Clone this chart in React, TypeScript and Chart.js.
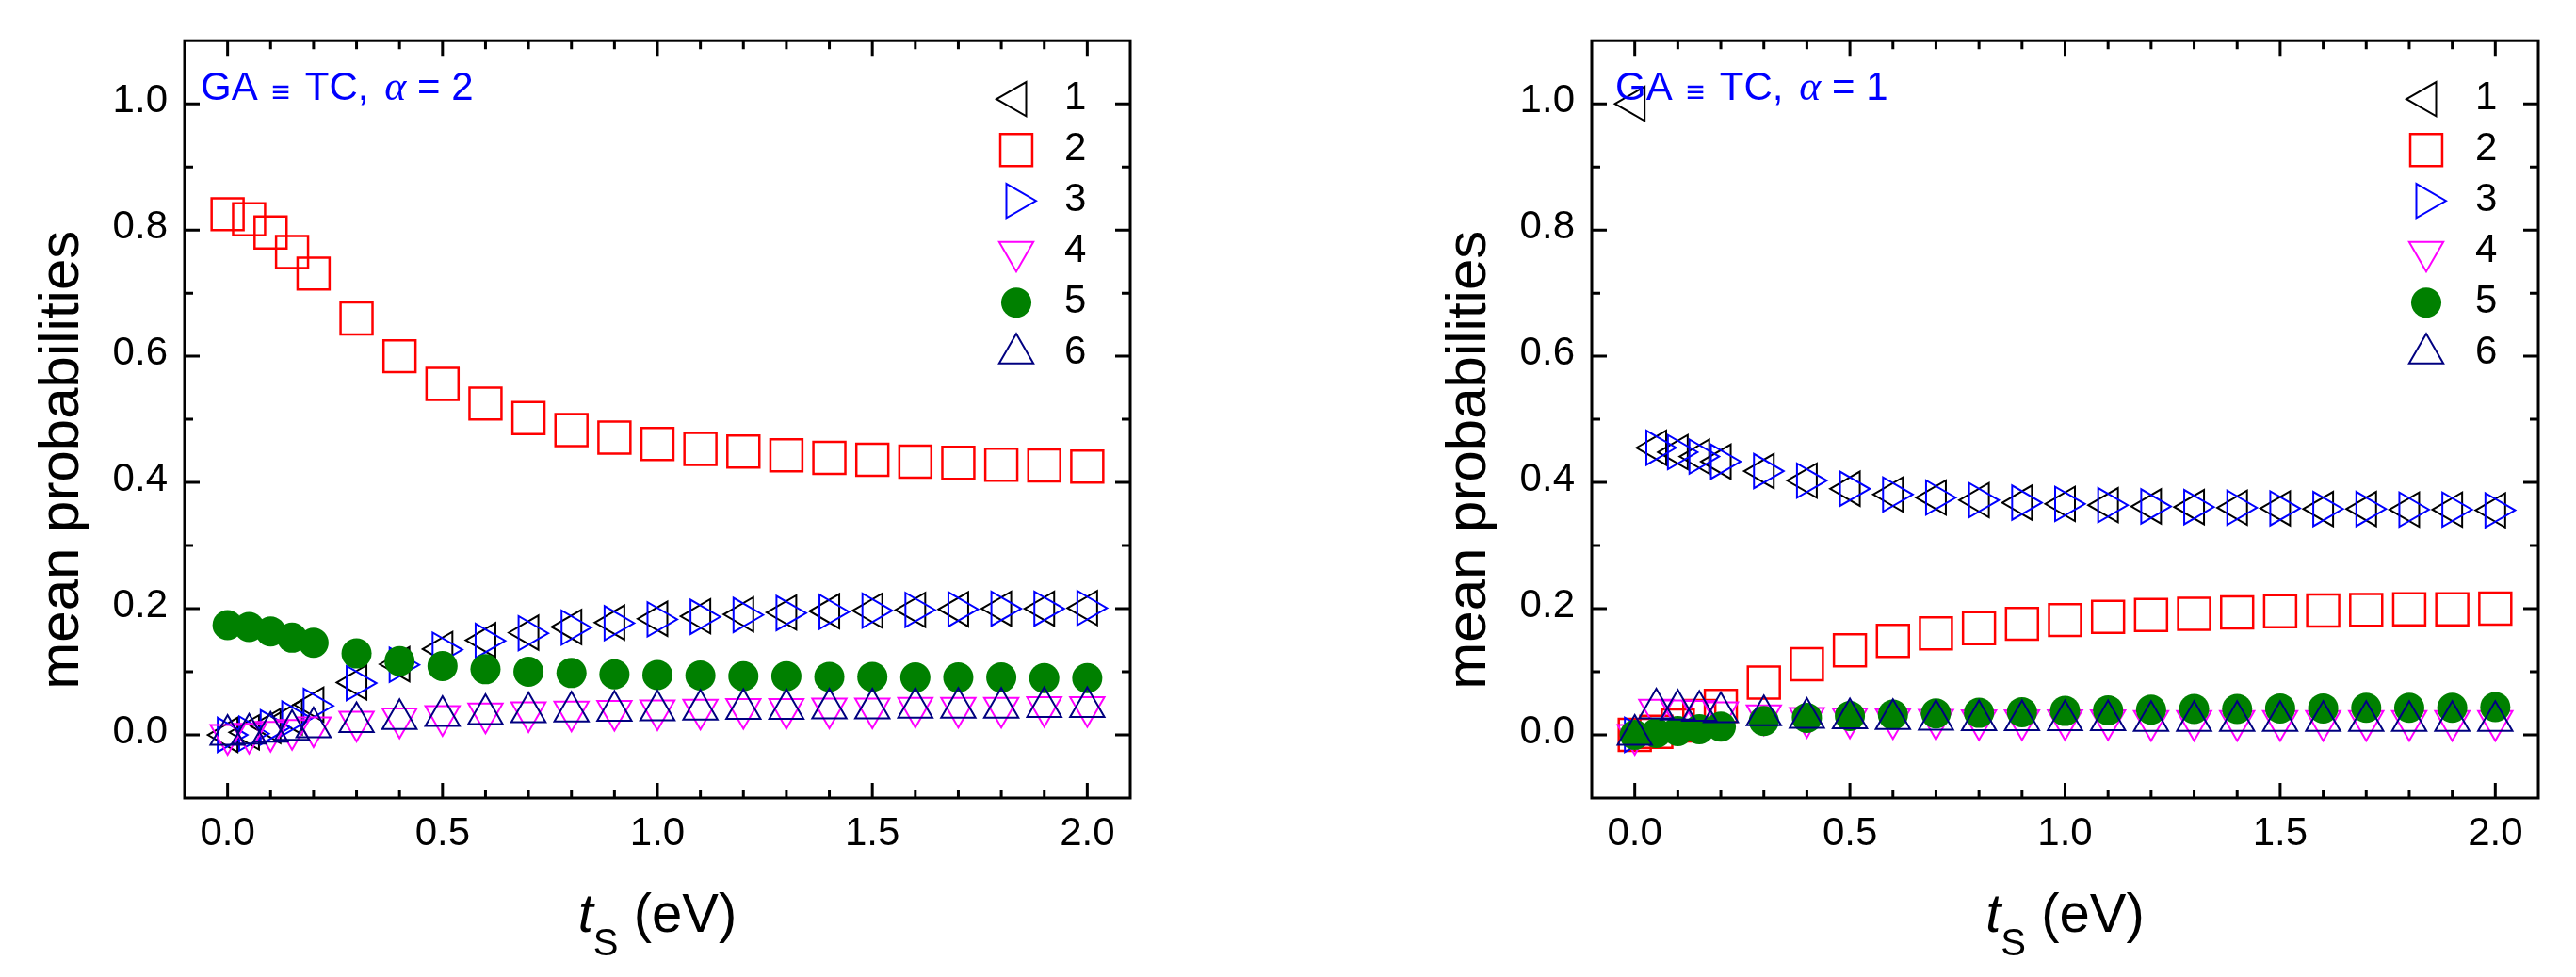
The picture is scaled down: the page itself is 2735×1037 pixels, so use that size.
import { useEffect, useRef } from "react"
import { Chart, registerables } from "chart.js"
import { drawPoint } from "chart.js/helpers"

Chart.register(...registerables)

// t_S values (eV)
const tsValues = [0, 0.05, 0.1, 0.15, 0.2, 0.3, 0.4, 0.5, 0.6, 0.7, 0.8, 0.9, 1.0, 1.1, 1.2, 1.3, 1.4, 1.5, 1.6, 1.7, 1.8, 1.9, 2.0]

const seriesNames = ["1", "2", "3", "4", "5", "6"]

// alpha = 2
const a2Series1 = [0, 0.004, 0.014, 0.028, 0.048, 0.083, 0.112, 0.136, 0.15, 0.162, 0.171, 0.178, 0.184, 0.188, 0.191, 0.194, 0.196, 0.197, 0.198, 0.199, 0.2, 0.2, 0.201]
const a2Series2 = [0.825, 0.817, 0.796, 0.765, 0.731, 0.66, 0.6, 0.556, 0.525, 0.502, 0.483, 0.471, 0.461, 0.453, 0.449, 0.443, 0.439, 0.436, 0.433, 0.431, 0.428, 0.427, 0.425]
const a2Series3 = [0, 0.002, 0.012, 0.026, 0.046, 0.082, 0.111, 0.135, 0.149, 0.161, 0.17, 0.177, 0.183, 0.187, 0.19, 0.193, 0.195, 0.197, 0.198, 0.199, 0.2, 0.2, 0.201]
const a2Series4 = [0, 0.002, 0.005, 0.008, 0.012, 0.021, 0.026, 0.03, 0.034, 0.036, 0.037, 0.038, 0.039, 0.04, 0.041, 0.041, 0.042, 0.042, 0.043, 0.043, 0.043, 0.044, 0.044]
const a2Series5 = [0.174, 0.171, 0.164, 0.154, 0.146, 0.129, 0.117, 0.109, 0.104, 0.1, 0.098, 0.096, 0.095, 0.094, 0.093, 0.093, 0.092, 0.092, 0.091, 0.091, 0.091, 0.09, 0.09]
const a2Series6 = [0, 0.002, 0.005, 0.008, 0.012, 0.02, 0.025, 0.03, 0.033, 0.036, 0.037, 0.038, 0.039, 0.04, 0.041, 0.041, 0.042, 0.042, 0.043, 0.043, 0.043, 0.044, 0.044]

// alpha = 1
const a1Series1 = [1.0, 0.455, 0.448, 0.441, 0.433, 0.418, 0.403, 0.39, 0.381, 0.376, 0.372, 0.368, 0.366, 0.364, 0.362, 0.361, 0.36, 0.359, 0.358, 0.358, 0.357, 0.357, 0.356]
const a1Series2 = [0, 0.005, 0.015, 0.03, 0.046, 0.083, 0.112, 0.134, 0.149, 0.161, 0.169, 0.176, 0.182, 0.187, 0.19, 0.192, 0.194, 0.196, 0.197, 0.198, 0.199, 0.199, 0.2]
const a1Series3 = [0, 0.455, 0.448, 0.441, 0.433, 0.418, 0.403, 0.39, 0.381, 0.376, 0.372, 0.368, 0.366, 0.364, 0.362, 0.361, 0.36, 0.359, 0.358, 0.358, 0.357, 0.357, 0.356]
const a1Series4 = [0, 0.04, 0.039, 0.038, 0.036, 0.031, 0.027, 0.026, 0.025, 0.024, 0.023, 0.023, 0.023, 0.023, 0.022, 0.022, 0.022, 0.022, 0.022, 0.022, 0.022, 0.022, 0.022]
const a1Series5 = [0, 0.003, 0.006, 0.009, 0.013, 0.022, 0.027, 0.03, 0.032, 0.034, 0.035, 0.036, 0.038, 0.039, 0.04, 0.041, 0.041, 0.042, 0.042, 0.043, 0.043, 0.043, 0.044]
const a1Series6 = [0, 0.042, 0.04, 0.038, 0.036, 0.031, 0.027, 0.026, 0.025, 0.024, 0.023, 0.023, 0.023, 0.023, 0.022, 0.022, 0.022, 0.022, 0.022, 0.022, 0.022, 0.022, 0.022]

// axis ticks
const xTickLabels = [0, 0.5, 1.0, 1.5, 2.0]
const xMinorTicks = [0.1, 0.2, 0.3, 0.4, 0.6, 0.7, 0.8, 0.9, 1.1, 1.2, 1.3, 1.4, 1.6, 1.7, 1.8, 1.9]
const yTickLabels = [0, 0.2, 0.4, 0.6, 0.8, 1.0]
const yMinorTicks = [0.1, 0.3, 0.5, 0.7, 0.9]

const FONT = "'Liberation Sans', Arial, sans-serif"
const SERIF = "'Liberation Serif', 'Times New Roman', serif"

const markers = [
  { color: "#000000", style: "triangle", rotation: 270, radius: 21, filled: false, width: 2 },
  { color: "#ff0000", style: "rect", rotation: 0, radius: 24, filled: false, width: 2.5 },
  { color: "#0000ff", style: "triangle", rotation: 90, radius: 21, filled: false, width: 2 },
  { color: "#ff00ff", style: "triangle", rotation: 180, radius: 21, filled: false, width: 2 },
  { color: "#008000", style: "circle", rotation: 0, radius: 16, filled: true, width: 0 },
  { color: "#000080", style: "triangle", rotation: 0, radius: 21, filled: false, width: 2 },
]

interface PanelProps {
  alpha: string
  series: number[][]
  left: number
  width: number
  padLeft: number
  padRight: number
  noteOffset: number
  legendSymbolX: number
  legendLabelX: number
}

const Panel = ({ alpha, series, left, width, padLeft, padRight, noteOffset, legendSymbolX, legendLabelX }: PanelProps) => {
  const canvasRef = useRef<HTMLCanvasElement>(null)
  const chartRef = useRef<Chart | null>(null)

  useEffect(() => {
    if (!canvasRef.current) return
    if (chartRef.current) chartRef.current.destroy()

    const framePlugin = {
      id: "frame",
      afterDraw(chart: any) {
        const { ctx, chartArea } = chart
        const { left: l, top: t, right: r, bottom: b } = chartArea
        const xs = chart.scales.x
        const ys = chart.scales.y
        ctx.save()

        // frame + inward ticks on all sides
        ctx.strokeStyle = "#000"
        ctx.lineWidth = 3
        ctx.strokeRect(l, t, r - l, b - t)
        ctx.beginPath()
        const xTick = (v: number, len: number) => {
          const p = xs.getPixelForValue(v)
          ctx.moveTo(p, b)
          ctx.lineTo(p, b - len)
          ctx.moveTo(p, t)
          ctx.lineTo(p, t + len)
        }
        const yTick = (v: number, len: number) => {
          const p = ys.getPixelForValue(v)
          ctx.moveTo(l, p)
          ctx.lineTo(l + len, p)
          ctx.moveTo(r, p)
          ctx.lineTo(r - len, p)
        }
        xTickLabels.forEach((v) => xTick(v, 16))
        xMinorTicks.forEach((v) => xTick(v, 9))
        yTickLabels.forEach((v) => yTick(v, 16))
        yMinorTicks.forEach((v) => yTick(v, 9))
        ctx.stroke()

        // legend
        seriesNames.forEach((name, i) => {
          const m = markers[i]
          const y = t + 62 + i * 54
          ctx.strokeStyle = m.color
          ctx.fillStyle = m.filled ? m.color : "rgba(0,0,0,0)"
          ctx.lineWidth = m.width
          drawPoint(ctx, { pointStyle: m.style as any, rotation: m.rotation, radius: m.radius, borderWidth: m.width }, r - legendSymbolX, y)
          ctx.fillStyle = "#000"
          ctx.font = `42px ${FONT}`
          ctx.textAlign = "left"
          ctx.textBaseline = "alphabetic"
          ctx.fillText(name, r - legendLabelX, y + 11)
        })

        // annotation "GA ≡ TC, α = n"
        ctx.fillStyle = "#0000ff"
        ctx.textAlign = "left"
        ctx.textBaseline = "alphabetic"
        let x = l + noteOffset
        const ny = t + 63
        ctx.font = `42px ${FONT}`
        ctx.fillText("GA", x, ny)
        x += ctx.measureText("GA ").width + 3
        ctx.font = `34px ${FONT}`
        ctx.fillText("\u2261", x, ny + 3)
        x += ctx.measureText("\u2261").width + 4
        ctx.font = `42px ${FONT}`
        ctx.fillText(" TC,", x, ny)
        x += ctx.measureText(" TC, ").width + 5
        ctx.font = `italic 44px ${SERIF}`
        ctx.fillText("\u03b1", x, ny)
        x += ctx.measureText("\u03b1").width
        ctx.font = `42px ${FONT}`
        ctx.fillText(` = ${alpha}`, x, ny)

        // y axis title
        ctx.fillStyle = "#000"
        ctx.save()
        ctx.translate(l - 113, t + 445)
        ctx.rotate(-Math.PI / 2)
        ctx.textAlign = "center"
        ctx.font = `60px ${FONT}`
        ctx.fillText("mean probabilities", 0, 0)
        ctx.restore()

        // x axis title: t_S (eV)
        ctx.textAlign = "left"
        const cx = (l + r) / 2
        const by = b + 142
        ctx.font = `italic 58px ${FONT}`
        const w1 = ctx.measureText("t").width
        ctx.font = `40px ${FONT}`
        const w2 = ctx.measureText("S").width
        ctx.font = `58px ${FONT}`
        const w3 = ctx.measureText(" (eV)").width
        let tx = cx - (w1 + w2 + w3) / 2
        ctx.font = `italic 58px ${FONT}`
        ctx.fillText("t", tx, by)
        tx += w1
        ctx.font = `40px ${FONT}`
        ctx.fillText("S", tx, by + 25)
        tx += w2
        ctx.font = `58px ${FONT}`
        ctx.fillText(" (eV)", tx, by)

        ctx.restore()
      },
    }

    const datasets = series.map((values, i) => {
      const m = markers[i]
      return {
        label: seriesNames[i],
        data: tsValues.map((ts, k) => ({ x: ts, y: values[k] })),
        showLine: false,
        pointStyle: m.style as any,
        pointRotation: m.rotation,
        pointRadius: m.radius,
        pointBorderWidth: m.width,
        pointBorderColor: m.color,
        pointBackgroundColor: m.filled ? m.color : "rgba(0,0,0,0)",
        order: seriesNames.length - i,
      }
    })

    chartRef.current = new Chart(canvasRef.current, {
      type: "scatter",
      data: { datasets },
      options: {
        animation: false,
        responsive: false,
        devicePixelRatio: 1,
        layout: { padding: { top: 30, right: padRight, bottom: 0, left: padLeft } },
        plugins: {
          legend: { display: false },
          tooltip: { enabled: false },
        },
        scales: {
          x: {
            type: "linear",
            min: -0.1,
            max: 2.1,
            afterBuildTicks: (scale: any) => {
              scale.ticks = xTickLabels.map((v) => ({ value: v }))
            },
            afterFit: (scale: any) => {
              scale.height = 190
            },
            grid: { display: false, drawTicks: false },
            border: { display: false },
            ticks: {
              callback: (v: any) => Number(v).toFixed(1),
              font: { size: 42, family: FONT },
              color: "#000",
              padding: 13,
              maxRotation: 0,
              autoSkip: false,
            },
          },
          y: {
            type: "linear",
            min: -0.1,
            max: 1.1,
            afterBuildTicks: (scale: any) => {
              scale.ticks = yTickLabels.map((v) => ({ value: v }))
            },
            afterFit: (scale: any) => {
              scale.width = 196
            },
            grid: { display: false, drawTicks: false },
            border: { display: false },
            ticks: {
              callback: (v: any) => Number(v).toFixed(1),
              font: { size: 42, family: FONT },
              color: "#000",
              padding: 18,
              labelOffset: -3,
              autoSkip: false,
            },
          },
        },
      },
      plugins: [framePlugin],
    })

    return () => {
      if (chartRef.current) {
        chartRef.current.destroy()
        chartRef.current = null
      }
    }
  }, [alpha, series, padLeft, padRight, noteOffset, legendSymbolX, legendLabelX])

  return (
    <canvas
      ref={canvasRef}
      width={width}
      height={1037}
      style={{ position: "absolute", left, top: 0 }}
    />
  )
}

const App = () => {
  return (
    <div style={{ position: "absolute", left: 0, top: 0, width: 2735, height: 1037, background: "#fff" }}>
      <Panel
        alpha="2"
        series={[a2Series1, a2Series2, a2Series3, a2Series4, a2Series5, a2Series6]}
        left={0}
        width={1367}
        padLeft={0}
        padRight={167}
        noteOffset={17}
        legendSymbolX={121}
        legendLabelX={70}
      />
      <Panel
        alpha="1"
        series={[a1Series1, a1Series2, a1Series3, a1Series4, a1Series5, a1Series6]}
        left={1367}
        width={1368}
        padLeft={127}
        padRight={40}
        noteOffset={25}
        legendSymbolX={119}
        legendLabelX={67}
      />
    </div>
  )
}

export default App
